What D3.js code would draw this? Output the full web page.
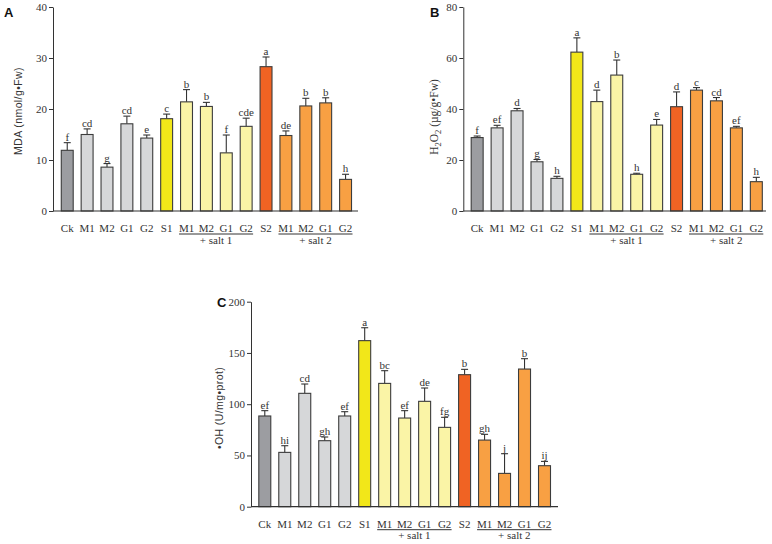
<!DOCTYPE html>
<html>
<head>
<meta charset="utf-8">
<script src="https://cdn.jsdelivr.net/npm/d3@7"></script>
<style>
html,body{margin:0;padding:0;background:#fff;}
svg{display:block;}
</style>
</head>
<body>
<svg id="chart" width="772" height="544"></svg>
<script>
// ---------- data ----------
const categories = ["Ck","M1","M2","G1","G2","S1","M1","M2","G1","G2","S2","M1","M2","G1","G2"];
const barClass   = ["ck","ctl","ctl","ctl","ctl","s1","salt1","salt1","salt1","salt1","s2","salt2","salt2","salt2","salt2"];
const groupNames = ["+ salt 1","+ salt 2"];
const groupStart = [6, 11];
const groupEnd   = [9, 14];

const mdaValues  = [11.9,15.0,8.6,17.1,14.3,18.1,21.4,20.5,11.4,16.6,28.3,14.8,20.6,21.2,6.2];
const mdaErrors  = [1.5,1.1,0.7,1.5,0.6,0.9,2.4,0.8,3.5,1.6,1.9,0.9,1.5,1.0,1.0];
const mdaLetters = ["f","cd","g","cd","e","c","b","b","f","cde","a","de","b","b","h"];
const mdaTicks   = [0,10,20,30,40];

const h2o2Values  = [28.8,32.6,39.3,19.3,12.8,62.3,42.9,53.3,14.4,33.7,40.9,47.4,43.2,32.6,11.5];
const h2o2Errors  = [0.6,1.0,0.9,0.9,0.8,5.6,4.5,5.9,0.4,2.2,5.8,1.0,1.3,0.6,1.7];
const h2o2Letters = ["f","ef","d","g","h","a","d","b","h","e","d","c","cd","ef","h"];
const h2o2Ticks   = [0,20,40,60,80];

const ohValues  = [88.5,53.0,110.6,64.4,88.5,162.0,120.3,86.5,102.8,77.4,128.8,65.0,32.5,134.3,40.0];
const ohErrors  = [5.2,6.5,9.1,3.6,4.2,12.6,12.4,7.2,13.0,9.8,5.2,5.6,19.2,10.1,4.2];
const ohLetters = ["ef","hi","cd","gh","ef","a","bc","ef","de","fg","b","gh","j","b","ij"];
const ohTicks   = [0,50,100,150,200];

const colors = {ck:"#9c9da1", ctl:"#d6d7d9", s1:"#f2e719", salt1:"#faf4a6", s2:"#f06323", salt2:"#f8a043"};

// ---------- drawing ----------
const svg = d3.select("#chart");
const SERIF = "'Liberation Serif','Times New Roman',serif";
const SANS  = "'Liberation Sans',Arial,sans-serif";
const INK = "#333";
const FS = "11px";

function panel(cfg){
  const g = svg.append("g");
  const y = d3.scaleLinear().domain([0, cfg.ticks[cfg.ticks.length-1]]).range([cfg.y0, cfg.yTop]);
  const x = d3.scaleBand().domain(d3.range(categories.length))
    .range([cfg.xStart, cfg.xEnd]).paddingInner(0.35).paddingOuter(0.175);

  // y axis
  const ya = g.append("g").attr("transform",`translate(${cfg.axisX},0)`)
    .call(d3.axisLeft(y).tickValues(cfg.ticks).tickSize(4).tickSizeOuter(0).tickPadding(2));
  ya.select(".domain").attr("stroke",INK).attr("stroke-width",1);
  ya.selectAll(".tick line").attr("stroke",INK);
  ya.selectAll(".tick text").attr("fill",INK).style("font-family",SERIF).style("font-size",FS);

  const data = cfg.values.map((v,i)=>({i, v, e:cfg.errors[i], l:cfg.letters[i]}));
  // error bars
  g.selectAll(".err").data(data).enter().append("line")
    .attr("x1",d=>x(d.i)+x.bandwidth()/2).attr("x2",d=>x(d.i)+x.bandwidth()/2)
    .attr("y1",d=>y(d.v)).attr("y2",d=>y(d.v+d.e))
    .attr("stroke",INK).attr("stroke-width",1.1);
  g.selectAll(".cap").data(data).enter().append("line")
    .attr("x1",d=>x(d.i)+x.bandwidth()/2-3.5).attr("x2",d=>x(d.i)+x.bandwidth()/2+3.5)
    .attr("y1",d=>y(d.v+d.e)).attr("y2",d=>y(d.v+d.e))
    .attr("stroke",INK).attr("stroke-width",1.1);
  // bars
  g.selectAll(".bar").data(data).enter().append("rect")
    .attr("x",d=>x(d.i)+0.5).attr("width",x.bandwidth()-1)
    .attr("y",d=>y(d.v)).attr("height",d=>y(0)-y(d.v))
    .attr("fill",d=>colors[barClass[d.i]])
    .attr("stroke","#3c3c3c").attr("stroke-width",1.1);
  // letters
  g.selectAll(".lt").data(data).enter().append("text")
    .attr("x",d=>x(d.i)+x.bandwidth()/2).attr("y",d=>y(d.v+d.e)-2)
    .attr("text-anchor","middle").attr("fill",INK)
    .style("font-family",SERIF).style("font-size",FS)
    .text(d=>d.l);

  // x axis line
  g.append("line").attr("x1",cfg.axisX).attr("x2",cfg.axisEnd)
    .attr("y1",y(0)).attr("y2",y(0)).attr("stroke",INK).attr("stroke-width",1.2);

  // category labels
  g.selectAll(".cat").data(categories).enter().append("text")
    .attr("x",(d,i)=>x(i)+x.bandwidth()/2).attr("y",y(0)+21)
    .attr("text-anchor","middle").attr("fill",INK)
    .style("font-family",SERIF).style("font-size",FS)
    .text(d=>d);
  // group underlines and labels
  groupNames.forEach((name,k)=>{
    const a = x(groupStart[k]) - 1, b = x(groupEnd[k]) + x.bandwidth() + 0.5;
    g.append("line").attr("x1",a).attr("x2",b)
      .attr("y1",y(0)+23).attr("y2",y(0)+23).attr("stroke",INK).attr("stroke-width",1);
    g.append("text").attr("x",(a+b)/2).attr("y",y(0)+32.5)
      .attr("text-anchor","middle").attr("fill",INK)
      .style("font-family",SERIF).style("font-size",FS).text(name);
  });

  // y title
  const t = g.append("text")
    .attr("transform",`translate(${cfg.titleX},${cfg.titleY}) rotate(-90)`)
    .attr("text-anchor","middle").attr("fill",INK)
    .style("font-family",cfg.titleFont).style("font-size",cfg.titleSize)
    .style("letter-spacing",cfg.titleSpacing);
  cfg.title(t);

  // panel letter
  g.append("text").attr("x",cfg.letterX).attr("y",cfg.letterY)
    .attr("fill","#111").style("font-family",SANS).style("font-weight","bold").style("font-size","13px")
    .text(cfg.letter);
}

panel({
  values: mdaValues, errors: mdaErrors, letters: mdaLetters, ticks: mdaTicks,
  y0: 211, yTop: 7, axisX: 53, axisEnd: 358, xStart: 57.3, xEnd: 355.5,
  titleX: 22, titleY: 111, titleFont: SANS, titleSize: "10.5px", titleSpacing: "0.4px",
  title: t => t.text("MDA  (nmol/g\u2022Fw)"),
  letter: "A", letterX: 4, letterY: 17
});

panel({
  values: h2o2Values, errors: h2o2Errors, letters: h2o2Letters, ticks: h2o2Ticks,
  y0: 211, yTop: 7, axisX: 463.3, axisEnd: 766, xStart: 467.2, xEnd: 766.3,
  titleX: 438, titleY: 117, titleFont: SERIF, titleSize: "11.5px", titleSpacing: "0px",
  title: t => {
    t.append("tspan").text("H");
    t.append("tspan").attr("dy",3).style("font-size","8.5px").text("2");
    t.append("tspan").attr("dy",-3).text("O");
    t.append("tspan").attr("dy",3).style("font-size","8.5px").text("2");
    t.append("tspan").attr("dy",-3).text(" (\u00b5g/g\u2022Fw)");
  },
  letter: "B", letterX: 430, letterY: 17
});

panel({
  values: ohValues, errors: ohErrors, letters: ohLetters, ticks: ohTicks,
  y0: 506.7, yTop: 301.7, axisX: 251, axisEnd: 558, xStart: 254.8, xEnd: 554.5,
  titleX: 223, titleY: 408, titleFont: SANS, titleSize: "10.5px", titleSpacing: "0.4px",
  title: t => t.text("\u2022OH  (U/mg\u2022prot)"),
  letter: "C", letterX: 217, letterY: 307
});
</script>
</body>
</html>
